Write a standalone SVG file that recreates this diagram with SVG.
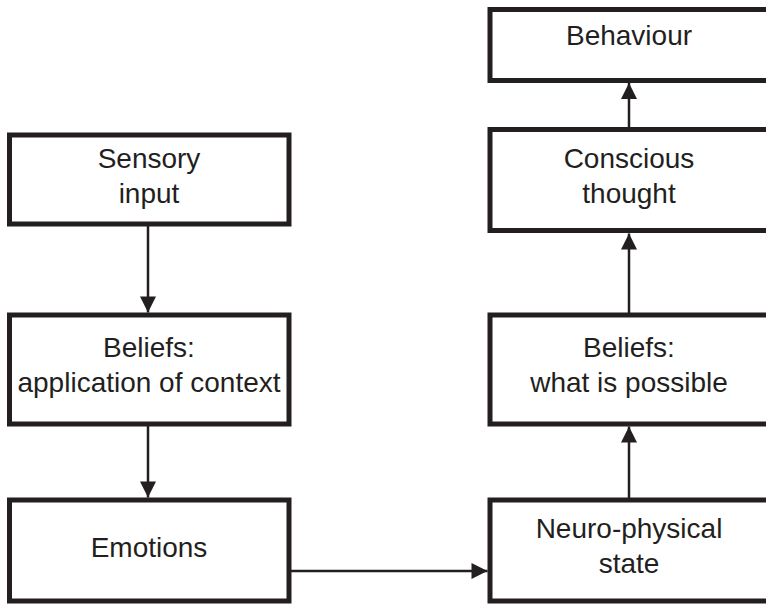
<svg xmlns="http://www.w3.org/2000/svg" width="766" height="604" viewBox="0 0 766 604">
<defs>
<style>
.box{fill:#fff;stroke:#231f20;stroke-width:5}
.t{font-family:"Liberation Sans",Arial,sans-serif;font-size:28px;fill:#231f20;text-anchor:middle}
.c{stroke:#231f20;stroke-width:2.5;fill:none;marker-end:url(#ah)}
</style>
<marker id="ah" viewBox="0 0 10 10" refX="10" refY="5" markerUnits="userSpaceOnUse" markerWidth="17" markerHeight="16" orient="auto">
<path d="M0,0 L10,5 L0,10 Z" fill="#231f20"/>
</marker>
</defs>
<rect width="766" height="604" fill="#fff"/>
<g id="connectors">
<line class="c" x1="148" y1="224" x2="148" y2="312.5"/>
<line class="c" x1="148" y1="424" x2="148" y2="497.5"/>
<line class="c" x1="289" y1="571" x2="487.5" y2="571"/>
<line class="c" x1="629" y1="500" x2="629" y2="426.5"/>
<line class="c" x1="629" y1="315" x2="629" y2="233.5"/>
<line class="c" x1="629" y1="129.5" x2="629" y2="83"/>
</g>
<g id="sensory">
<rect class="box" x="9.5" y="135" width="279.5" height="89"/>
<text class="t" x="149" y="168">Sensory</text>
<text class="t" x="149" y="203">input</text>
</g>
<g id="beliefs-context">
<rect class="box" x="9.5" y="315" width="279.5" height="109"/>
<text class="t" x="149" y="357">Beliefs:</text>
<text class="t" x="149" y="392">application of context</text>
</g>
<g id="emotions">
<rect class="box" x="9.5" y="500" width="279.5" height="101"/>
<text class="t" x="149" y="557">Emotions</text>
</g>
<g id="neuro">
<rect class="box" x="490" y="500" width="285" height="101"/>
<text class="t" x="629" y="538">Neuro-physical</text>
<text class="t" x="629" y="573">state</text>
</g>
<g id="beliefs-possible">
<rect class="box" x="490" y="315" width="285" height="109"/>
<text class="t" x="629" y="357">Beliefs:</text>
<text class="t" x="629" y="392">what is possible</text>
</g>
<g id="conscious">
<rect class="box" x="490" y="129.5" width="285" height="101"/>
<text class="t" x="629" y="168">Conscious</text>
<text class="t" x="629" y="203">thought</text>
</g>
<g id="behaviour">
<rect class="box" x="490" y="9.5" width="285" height="71"/>
<text class="t" x="629" y="45">Behaviour</text>
</g>
</svg>
